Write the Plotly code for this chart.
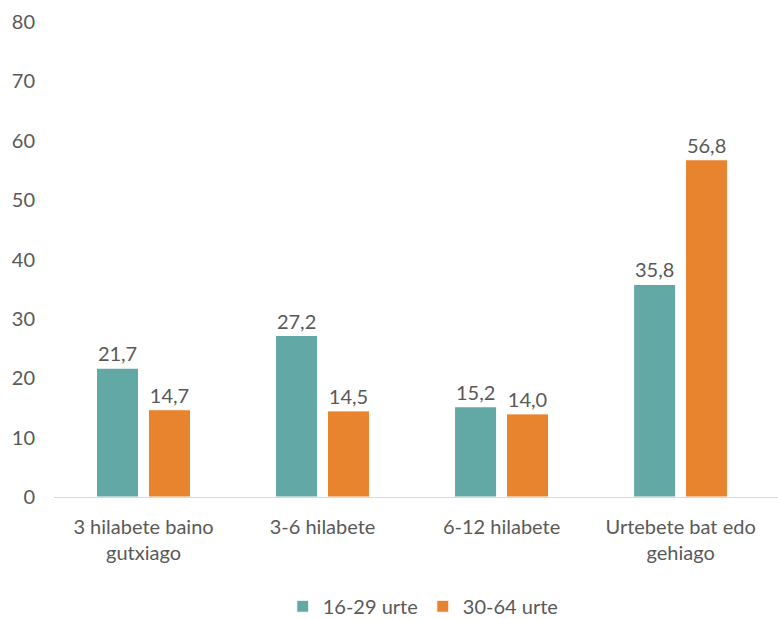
import plotly.graph_objects as go

categories = ["3 hilabete baino<br>gutxiago", "3-6 hilabete", "6-12 hilabete", "Urtebete bat edo<br>gehiago"]
series_names = ["16-29 urte", "30-64 urte"]
young = [21.7, 27.2, 15.2, 35.8]
older = [14.7, 14.5, 14.0, 56.8]
y_ticks = [0, 10, 20, 30, 40, 50, 60, 70, 80]

colors = ["#62A9A6", "#E8832E"]
font_family = "Lato, Open Sans, sans-serif"
gray = "#595959"
fs = 20

fig = go.Figure()
for name, vals, col in zip(series_names, [young, older], colors):
    fig.add_trace(go.Bar(
        x=categories, y=vals, name=name,
        marker=dict(color=col, line=dict(color="white", width=1)),
        texttemplate="%{y:.1f}", textposition="outside",
        textfont=dict(size=fs, color=gray, family=font_family),
        cliponaxis=False,
    ))

fig.update_layout(
    width=778, height=619,
    margin=dict(l=54, r=0, t=22, b=122, autoexpand=False),
    plot_bgcolor="white", paper_bgcolor="white",
    separators=",.",
    barmode="group", bargap=0.42, bargroupgap=0.19,
    font=dict(family=font_family, size=fs, color=gray),
    showlegend=True,
    legend=dict(orientation="h", x=0.51, xanchor="center", y=-0.23, yanchor="middle",
                font=dict(size=fs, color=gray), traceorder="normal", itemwidth=30),
    xaxis=dict(range=[-0.5, 3.544], showline=True, linecolor="#D9D9D9", linewidth=1,
               ticks="", tickfont=dict(size=fs, color=gray), showgrid=False,
               ticklabelstandoff=12, automargin=False),
    yaxis=dict(range=[0, 80], tickvals=y_ticks, showgrid=False, zeroline=False,
               showline=False, ticks="", tickfont=dict(size=fs, color=gray),
               ticklabelstandoff=18, automargin=False),
)

fig.write_html("out.html", config={"displayModeBar": False},
               post_script="document.body.style.margin='0';")
